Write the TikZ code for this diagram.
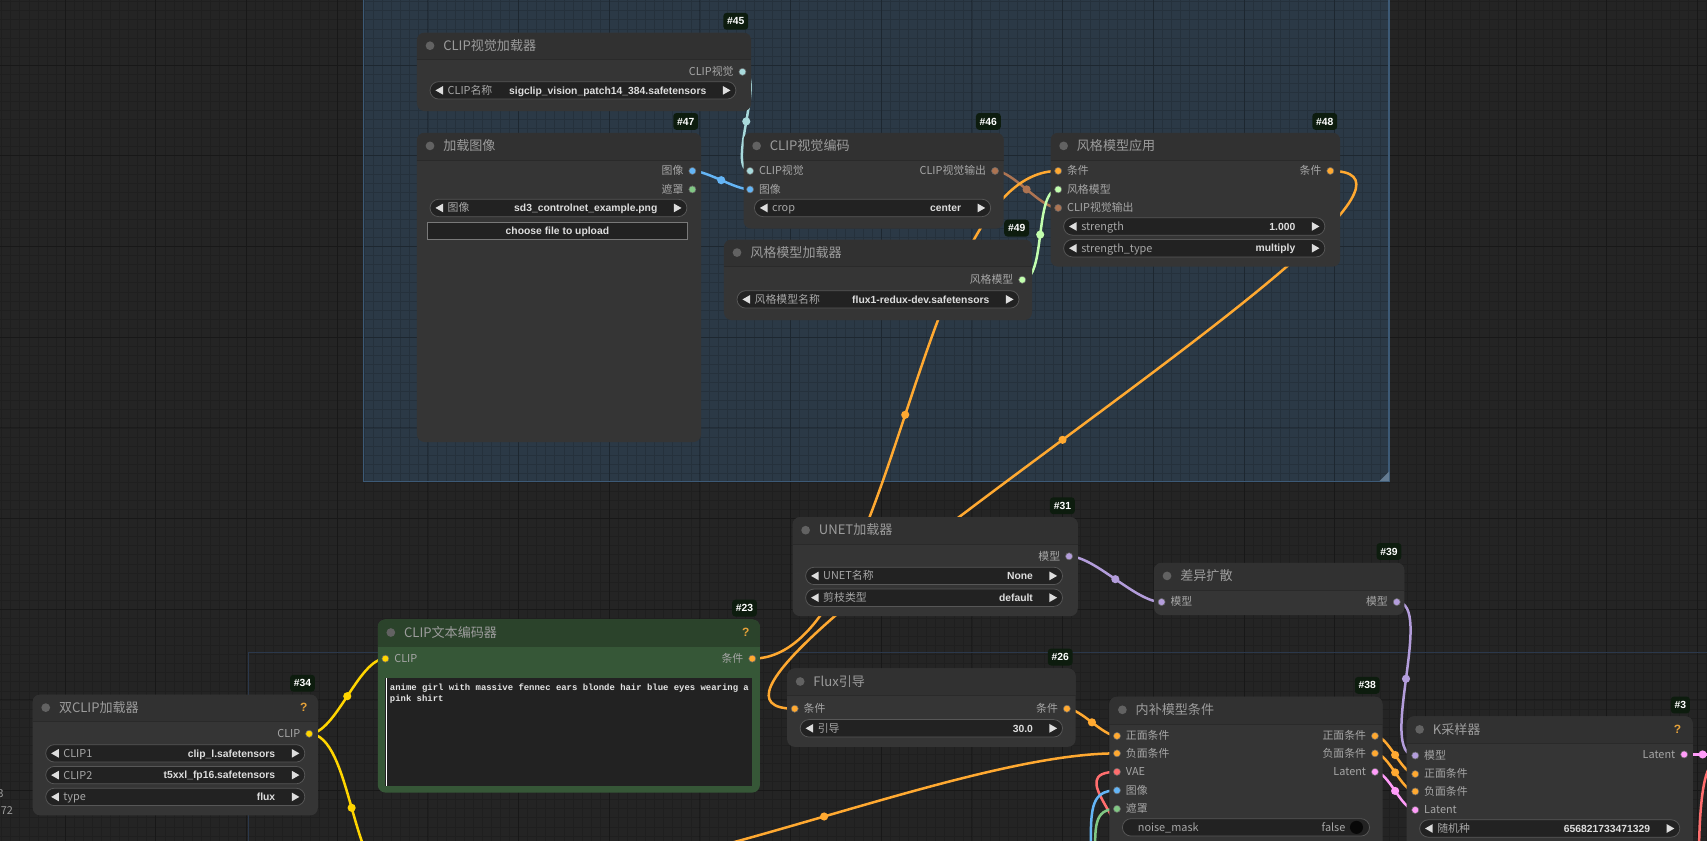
\documentclass[tikz,border=0pt]{standalone}
\usepackage{fontspec}
\setmainfont{Noto Sans CJK SC}
\newfontfamily\lat{Liberation Sans}
\newfontfamily\monof{Liberation Mono}
\usetikzlibrary{calc}
\pgfdeclarelayer{bg}
\pgfdeclarelayer{wires}
\pgfsetlayers{bg,wires,main}

\definecolor{canvas}{HTML}{242424}
\definecolor{groupbg}{HTML}{2B3946}
\definecolor{groupln}{HTML}{3D5A76}
\definecolor{lowgrp}{HTML}{2B384B}
\definecolor{nodebody}{HTML}{353535}
\definecolor{nodetitle}{HTML}{313131}
\definecolor{nodesep}{HTML}{2A2A2A}
\definecolor{gbody}{HTML}{365737}
\definecolor{gtitle}{HTML}{2B432B}
\definecolor{dotc}{HTML}{626262}
\definecolor{titletext}{HTML}{9C9C9C}
\definecolor{lbltext}{HTML}{A6A6A6}
\definecolor{valtext}{HTML}{DDDDDD}
\definecolor{pillbg}{HTML}{222222}
\definecolor{pillln}{HTML}{575757}
\definecolor{badgebg}{HTML}{0D1C0E}
\definecolor{helpc}{HTML}{E6A23A}
\definecolor{cclipv}{HTML}{A8DADC}
\definecolor{cimage}{HTML}{64B5F6}
\definecolor{cmask}{HTML}{81C784}
\definecolor{ccvo}{HTML}{AD7452}
\definecolor{cstyle}{HTML}{C2FFAE}
\definecolor{ccond}{HTML}{FFA931}
\definecolor{cmodel}{HTML}{B39DDB}
\definecolor{cclip}{HTML}{FFD500}
\definecolor{cvae}{HTML}{FF6E6E}
\definecolor{clatent}{HTML}{FF9CF9}
\colorlet{bodyc}{nodebody}
\colorlet{titlec}{nodetitle}
\colorlet{sepc}{nodesep}

\def\fs#1{\fontsize{#1}{#1}\selectfont}

\tikzset{
  every node/.style={inner sep=0pt},
  ntitle/.style={font=\fs{12}, text=titletext, text height=8.6pt, text depth=0pt},
  slbl/.style={font=\fs{10}, text=lbltext, text height=7.2pt, text depth=0pt},
  wlbl/.style={font=\fs{10}, text=lbltext, text height=7.2pt, text depth=0pt},
  wval/.style={font=\lat\bfseries\fs{9.5}, text=valtext, text height=6.9pt, text depth=0pt},
  badge/.style={fill=badgebg, rounded corners=3pt, text=white, font=\lat\bfseries\fs{9.5}, inner xsep=3.5pt, minimum height=15.5pt},
  help/.style={font=\lat\bfseries\fs{11}, text=helpc},
  prompt/.style={font=\monof\bfseries\fontsize{8.2}{10}\selectfont, text=white!90!black},
  slot/.style={circle, fill=#1, draw=black!60, line width=.5pt, minimum size=6.5pt},
  linkdot/.style={circle, fill=#1, minimum size=7.5pt},
  linkw/.style={draw=#1, line width=2.3pt, out=0, in=180, looseness=.64},
  pill/.style={fill=pillbg, draw=pillln, line width=.7pt, rounded corners=8pt},
  tri/.style={fill=valtext},
}

% node box: name, x1, y1, x2, y2, title, id
\newcommand\nodebox[7]{%
  \fill[bodyc, rounded corners=7pt] (#2,#3) rectangle (#4,#5);
  \begin{scope}
    \clip[rounded corners=7pt] (#2,#3) rectangle (#4,#5);
    \fill[titlec] (#2,#3) rectangle (#4,#3+25);
  \end{scope}
  \draw[sepc, line width=.8pt] (#2,#3+25) -- (#4,#3+25);
  \fill[dotc] (#2+12,#3+12) circle (4pt);
  \node[ntitle, anchor=west] (#1t) at (#2+24,#3+12) {#6};
  \node[badge, anchor=south east] (#1b) at (#4-2.5,#3-2.5) {\##7};
}
\newcommand\inslot[5]{\node[slot=#4] (#1) at (#2,#3) {};
  \node[slbl, anchor=west] (#1l) at (#2+8,#3) {#5};}
\newcommand\outslot[5]{\node[slot=#4] (#1) at (#2,#3) {};
  \node[slbl, anchor=east] (#1l) at (#2-8,#3) {#5};}
% widget: name, x1, x2, y, label, value
\newcommand\widget[6]{%
  \draw[pill] (#2,#4-8) rectangle (#3,#4+8);
  \fill[tri] (#2+5,#4) -- (#2+12,#4-4) -- (#2+12,#4+4) -- cycle;
  \fill[tri] (#3-5,#4) -- (#3-12,#4-4) -- (#3-12,#4+4) -- cycle;
  \node[wlbl, anchor=west] (#1l) at (#2+16,#4) {#5};
  \node[wval, anchor=east] (#1v) at (#3-27,#4) {#6};
}
\def\wire#1#2#3{\draw[linkw=#1] (#2.center) to node[linkdot=#1] (#2#3m) {} (#3.center);}

\begin{document}
\begin{tikzpicture}[x=1pt, y=-1pt]
  %%%%% CANVAS %%%%%
  \useasboundingbox (0,0) rectangle (1568,771.6);
  \begin{pgfonlayer}{bg}
    \fill[canvas] (-5,-5) rectangle (1575,780);
    \fill[groupbg] (334,-5) rectangle (1276,442);
    \begin{scope}[y=1pt, shift={(1.5,-1.5)}]
      \draw[black, opacity=.13, line width=.6pt, step=8.33] (-10,-790) grid (1580,10);
    \end{scope}
    \begin{scope}[y=1pt, shift={(59.8,-59.8)}]
      \draw[black, opacity=.2, line width=.9pt, step=83.3] (-90,-870) grid (1580,90);
    \end{scope}
    \draw[groupln, line width=1.2pt] (334,-5) -- (334,442) -- (1276,442) -- (1276,-5);
    \fill[groupln!80!white] (1267,442) -- (1276,433) -- (1276,442) -- cycle;
    \draw[lowgrp, line width=1pt] (228,780) -- (228,599) -- (1575,599);
  \end{pgfonlayer}

  \node[slbl, anchor=east, text=titletext] (cut3) at (3.5,729) {3};
  \node[slbl, anchor=east, text=titletext] (cut72) at (12,745) {72};

  %%%%% NODES %%%%%
  \nodebox{n45}{383}{30}{690}{102}{CLIP视觉加载器}{45}
  \outslot{n45o1}{682}{66}{cclipv}{CLIP视觉}
  \widget{n45w1}{395}{676}{83}{CLIP名称}{sigclip\_vision\_patch14\_384.safetensors}

  \nodebox{n47}{383}{122}{644}{406}{加载图像}{47}
  \outslot{n47o1}{636}{157}{cimage}{图像}
  \outslot{n47o2}{636}{174}{cmask}{遮罩}
  \widget{n47w1}{395}{631}{191}{图像}{sd3\_controlnet\_example.png}
  \draw[fill=pillbg, draw=pillln!80!white, line width=.7pt] (393,204) rectangle (631,220);
  \node[wval] (n47btn) at (512,212) {choose file to upload};

  \nodebox{n46}{683}{122}{922}{210}{CLIP视觉编码}{46}
  \inslot{n46i1}{689}{157}{cclipv}{CLIP视觉}
  \inslot{n46i2}{689}{174}{cimage}{图像}
  \outslot{n46o1}{914}{157}{ccvo}{CLIP视觉输出}
  \widget{n46w1}{693}{910}{191}{crop}{center}

  \nodebox{n49}{665}{220}{948}{294}{风格模型加载器}{49}
  \outslot{n49o1}{939}{257}{cstyle}{风格模型}
  \widget{n49w1}{677}{936}{275}{风格模型名称}{flux1-redux-dev.safetensors}

  \nodebox{n48}{965}{122}{1231}{245}{风格模型应用}{48}
  \inslot{n48i1}{972}{157}{ccond}{条件}
  \inslot{n48i2}{972}{174}{cstyle}{风格模型}
  \inslot{n48i3}{972}{191}{ccvo}{CLIP视觉输出}
  \outslot{n48o1}{1222}{157}{ccond}{条件}
  \widget{n48w1}{977}{1217}{208}{strength}{1.000}
  \widget{n48w2}{977}{1217}{228}{strength\_type}{multiply}

  \nodebox{n31}{728}{475}{990}{566}{UNET加载器}{31}
  \outslot{n31o1}{982}{511}{cmodel}{模型}
  \widget{n31w1}{740}{976}{529}{UNET名称}{None}
  \widget{n31w2}{740}{976}{549}{剪枝类型}{default}

  \nodebox{n39}{1060}{517}{1290}{565}{差异扩散}{39}
  \inslot{n39i1}{1067}{553}{cmodel}{模型}
  \outslot{n39o1}{1283}{553}{cmodel}{模型}

  \begin{scope}
    \colorlet{bodyc}{gbody}\colorlet{titlec}{gtitle}\colorlet{sepc}{gtitle}
    \nodebox{n23}{347}{569}{698}{728}{CLIP文本编码器}{23}
  \end{scope}
  \node[help] (n23h) at (685,581) {?};
  \inslot{n23i1}{354}{605}{cclip}{CLIP}
  \outslot{n23o1}{691}{605}{ccond}{条件}
  \fill[pillbg] (354,623) rectangle (691,722);
  \draw[white, line width=.8pt] (355,623) -- (355,722);
  \node[prompt, anchor=north west, align=left] (n23txt) at (358,628) {anime girl with massive fennec ears blonde hair blue eyes wearing a\\pink shirt};

  \nodebox{n34}{30}{638}{292}{749}{双CLIP加载器}{34}
  \node[help] (n34h) at (279,650) {?};
  \outslot{n34o1}{284}{674}{cclip}{CLIP}
  \widget{n34w1}{42}{280}{692}{CLIP1}{clip\_l.safetensors}
  \widget{n34w2}{42}{280}{712}{CLIP2}{t5xxl\_fp16.safetensors}
  \widget{n34w3}{42}{280}{732}{type}{flux}

  \nodebox{n26}{723}{614}{988}{686}{Flux引导}{26}
  \inslot{n26i1}{730}{651}{ccond}{条件}
  \outslot{n26o1}{980}{651}{ccond}{条件}
  \widget{n26w1}{735}{976}{669}{引导}{30.0}

  \nodebox{n38}{1019}{640}{1270}{790}{内补模型条件}{38}
  \inslot{n38i1}{1026}{676}{ccond}{正面条件}
  \inslot{n38i2}{1026}{692}{ccond}{负面条件}
  \inslot{n38i3}{1026}{709}{cvae}{VAE}
  \inslot{n38i4}{1026}{726}{cimage}{图像}
  \inslot{n38i5}{1026}{743}{cmask}{遮罩}
  \outslot{n38o1}{1263}{676}{ccond}{正面条件}
  \outslot{n38o2}{1263}{692}{ccond}{负面条件}
  \outslot{n38o3}{1263}{709}{clatent}{Latent}
  \draw[pill] (1031,752) rectangle (1258,768);
  \node[wlbl, anchor=west] (n38w1l) at (1045,760) {noise\_mask};
  \node[wlbl, anchor=east] (n38w1v) at (1236,760) {false};
  \fill[black!75!pillbg] (1246,760) circle (6pt);

  \nodebox{n3}{1292}{658}{1555}{790}{K采样器}{3}
  \node[help] (n3h) at (1541,670) {?};
  \inslot{n3i1}{1300}{694}{cmodel}{模型}
  \inslot{n3i2}{1300}{711}{ccond}{正面条件}
  \inslot{n3i3}{1300}{727}{ccond}{负面条件}
  \inslot{n3i4}{1300}{744}{clatent}{Latent}
  \outslot{n3o1}{1547}{693}{clatent}{Latent}
  \widget{n3w1}{1304}{1543}{761}{随机种}{656821733471329}

  %%%%% LINKS %%%%%
  \coordinate (offclip) at (362,810);
  \coordinate (offcond) at (488,808);
  \coordinate (offlat) at (1581,693);
  \coordinate (offvae) at (1030,790);
  \coordinate (offimg) at (1002,790);
  \coordinate (offmask) at (1006,790);
  \coordinate (offvaea) at (1578,702);
  \coordinate (offvaeb) at (1561,800);
  \begin{pgfonlayer}{wires}
    \wire{cclipv}{n45o1}{n46i1}
    \wire{cimage}{n47o1}{n46i2}
    \wire{ccvo}{n46o1}{n48i3}
    \wire{cstyle}{n49o1}{n48i2}
    \wire{ccond}{n23o1}{n48i1}
    \wire{ccond}{n48o1}{n26i1}
    \wire{ccond}{n26o1}{n38i1}
    \wire{ccond}{offcond}{n38i2}
    \wire{cclip}{n34o1}{n23i1}
    \wire{cclip}{n34o1}{offclip}
    \wire{cmodel}{n31o1}{n39i1}
    \wire{cmodel}{n39o1}{n3i1}
    \wire{ccond}{n38o1}{n3i2}
    \wire{ccond}{n38o2}{n3i3}
    \wire{clatent}{n38o3}{n3i4}
    \wire{clatent}{n3o1}{offlat}
    \draw[linkw=cvae] (offvae.center) .. controls (1045,760) and (975,709) .. (n38i3.center);
    \draw[linkw=cimage] (offimg.center) .. controls (1002,745) and (1000,726) .. (n38i4.center);
    \draw[linkw=cmask] (offmask.center) .. controls (1006,760) and (1004,743) .. (n38i5.center);
    \draw[linkw=cvae] (offvaea.center) to[out=150, in=-90] (offvaeb.center);
  \end{pgfonlayer}
\end{tikzpicture}
\end{document}
